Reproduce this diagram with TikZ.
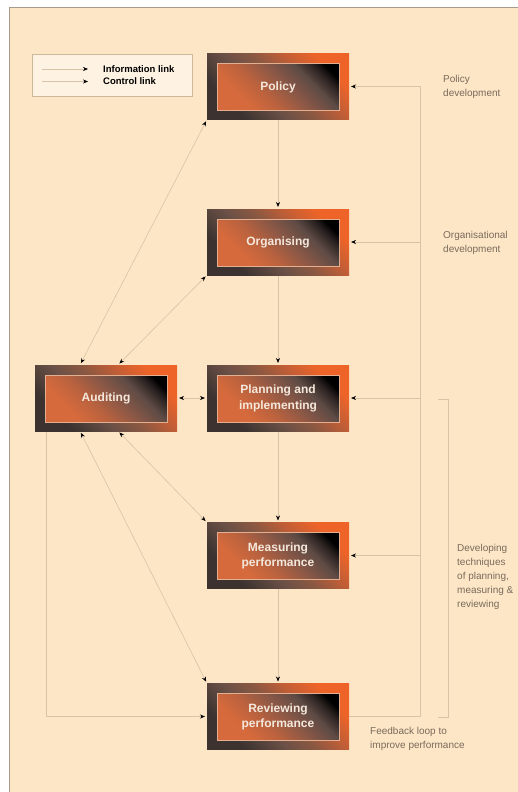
\documentclass[tikz,border=0pt]{standalone}
\usepackage{fontspec}
\setmainfont{Liberation Sans}
\usetikzlibrary{arrows.meta,calc}
\definecolor{peach}{HTML}{FDE6C6}
\definecolor{framec}{HTML}{A89A8A}
\definecolor{legfill}{HTML}{FEF2E2}
\definecolor{legdraw}{HTML}{CDB89C}
\definecolor{linkc}{HTML}{D9C3A6}
\definecolor{sidetext}{HTML}{7A6A5C}
\definecolor{oA1}{HTML}{3C3330}
\definecolor{oA2}{HTML}{6A5046}
\definecolor{oA3}{HTML}{8A5842}
\definecolor{oA4}{HTML}{C25E36}
\definecolor{oA5}{HTML}{EE6428}
\definecolor{iB1}{HTML}{D66A3C}
\definecolor{iB2}{HTML}{BA623E}
\definecolor{iB3}{HTML}{8C5846}
\definecolor{iB4}{HTML}{5E4B45}
\definecolor{iB5}{HTML}{2A2220}
\definecolor{innerline}{HTML}{E4AE90}
\definecolor{boxtextc}{HTML}{F4E8DC}
\pgfdeclareverticalshading{innersh}{100bp}{color(0bp)=(iB1); color(30bp)=(iB1); color(42bp)=(iB2); color(54bp)=(iB3); color(66bp)=(iB4); color(74bp)=(iB5); color(79bp)=(black); color(100bp)=(black)}
\pgfdeclareverticalshading{outersh}{100bp}{color(0bp)=(oA1); color(28bp)=(oA1); color(42bp)=(oA2); color(52bp)=(oA3); color(63bp)=(oA4); color(74bp)=(oA5); color(100bp)=(oA5)}
\newcommand\hsbox[4]{%
  \node[boxnode] (#1) at (#2,#3) {};
  \shade[outershade] (#1.south west) rectangle (#1.north east);
  \shade[innershade] ($(#1.south west)+(10,-9)$) rectangle ($(#1.north east)+(-10,10)$);
  \node[boxtext] (#1-t) at ($(#1.center)+(0,0.5)$) {#4};
}
\begin{document}
\begin{tikzpicture}[x=1pt,y=-1pt,
  boxnode/.style={minimum width=142pt,minimum height=66pt,inner sep=0pt,outer sep=0pt,draw=none},
  outershade/.style={shading=outersh,shading angle=-45},
  innershade/.style={shading=innersh,shading angle=-45,draw=innerline,line width=0.8pt},
  boxtext/.style={text=boxtextc,font=\fontsize{12}{15.5}\selectfont\bfseries,align=center,inner sep=0pt},
  lnk/.style={draw=linkc,line width=0.6pt,-{Stealth[length=5pt,width=4pt,color=black]},shorten >=2pt},
  lnkboth/.style={draw=linkc,line width=0.6pt,{Stealth[length=5pt,width=4pt,color=black]}-{Stealth[length=5pt,width=4pt,color=black]},shorten >=2pt,shorten <=2pt},
  plainlnk/.style={draw=linkc,line width=0.6pt},
  side/.style={text=sidetext,font=\fontsize{10}{14}\selectfont,align=left,inner sep=0pt,anchor=west},
  legtext/.style={font=\fontsize{9.5}{12}\selectfont\bfseries,inner sep=0pt,anchor=west}
]
\useasboundingbox (0,0) rectangle (517,792);
\fill[white] (0,0) rectangle (517,792);
\fill[peach] (9,7) rectangle (520,795);
\draw[framec,line width=0.9pt] (9,795) -- (9,7) -- (520,7);

% legend
\node[draw=legdraw,fill=legfill,line width=0.6pt,minimum width=160pt,minimum height=42pt,inner sep=0pt] (legend) at (112,75) {};
\coordinate (li1) at (42,69);
\coordinate (li2) at (88,69);
\coordinate (lc1) at (42,81.5);
\coordinate (lc2) at (88,81.5);
\draw[lnk,shorten >=0pt] (li1) -- (li2);
\draw[lnk,shorten >=0pt] (lc1) -- (lc2);
\node[legtext] (leg-i) at (103,69) {Information link};
\node[legtext] (leg-c) at (103,81.5) {Control link};

% boxes (nodes first, for naming)
\node[boxnode] (Policy) at (278,86.5) {};
\node[boxnode] (Organising) at (278,242) {};
\node[boxnode] (Planning) at (278,398) {};
\node[boxnode] (Measuring) at (278,555.5) {};
\node[boxnode] (Reviewing) at (278,716.5) {};
\node[boxnode] (Auditing) at (106,398) {};

% main vertical links
\draw[lnk] (Policy.south) -- (Organising.north);
\draw[lnk] (Organising.south) -- (Planning.north);
\draw[lnk] (Planning.south) -- (Measuring.north);
\draw[lnk] (Measuring.south) -- (Reviewing.north);

% feedback loop
\coordinate (fbx) at (420,0);
\draw[lnk] (Reviewing.east) -- (Reviewing.east -| fbx) -- (Policy.east -| fbx) -- (Policy.east);
\draw[lnk] (Organising.east -| fbx) -- (Organising.east);
\draw[lnk] (Planning.east -| fbx) -- (Planning.east);
\draw[lnk] (Measuring.east -| fbx) -- (Measuring.east);

% auditing links
\draw[lnkboth] (Auditing.east) -- (Planning.west);
\draw[lnkboth] ([xshift=45pt]Auditing.north west) -- (Policy.south west);
\draw[lnkboth] ([xshift=83pt]Auditing.north west) -- (Organising.south west);
\draw[lnkboth] ([xshift=83pt]Auditing.south west) -- (Measuring.north west);
\draw[lnkboth] ([xshift=45pt]Auditing.south west) -- (Reviewing.north west);
\draw[lnk] ([xshift=11pt]Auditing.south west) |- (Reviewing.west);

% bracket
\coordinate (br1) at (438,399);
\coordinate (br2) at (448,399);
\coordinate (br3) at (448,717);
\coordinate (br4) at (438,717);
\draw[plainlnk] (br1) -- (br2) -- (br3) -- (br4);

% shaded boxes
\hsbox{PolicyS}{278}{86.5}{Policy}
\hsbox{OrganisingS}{278}{242}{Organising}
\hsbox{PlanningS}{278}{398}{Planning and\\implementing}
\hsbox{MeasuringS}{278}{555.5}{Measuring\\performance}
\hsbox{ReviewingS}{278}{716.5}{Reviewing\\performance}
\hsbox{AuditingS}{106}{398}{Auditing}

% side texts
\node[side] (t-pol) at (443,87) {Policy\\development};
\node[side] (t-org) at (443,242.5) {Organisational\\development};
\node[side] (t-dev) at (457,577) {Developing\\techniques\\of planning,\\measuring \&\\reviewing};
\node[side] (t-fb) at (370,739) {Feedback loop to\\improve performance};
\end{tikzpicture}
\end{document}
